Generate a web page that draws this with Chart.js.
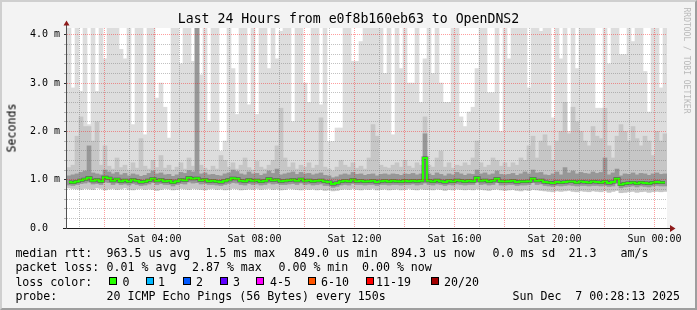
<!DOCTYPE html>
<html>
<head>
<meta charset="utf-8">
<script src="https://cdn.jsdelivr.net/npm/chart.js@4.4.1/dist/chart.umd.min.js"></script>
<style>
html,body{margin:0;padding:0;background:#f3f3f3;}
#wrap{position:relative;width:697px;height:310px;overflow:hidden;background:#f3f3f3;font-family:"DejaVu Sans Mono",monospace;color:#000;}
#c{position:absolute;left:0;top:0;}
.t{position:absolute;white-space:pre;font-size:11.6px;line-height:12px;}
.box{position:absolute;width:8px;height:8px;box-sizing:border-box;border:1px solid #000;}
#title{position:absolute;left:0;top:12px;width:697px;text-align:center;white-space:pre;font-size:13.2px;line-height:14px;}
#ylab{position:absolute;left:-13.5px;top:121.5px;width:49px;text-align:center;font-size:11.6px;line-height:12px;transform:rotate(-90deg);transform-origin:50% 50%;}
#wm{position:absolute;left:631px;top:55.5px;width:111px;text-align:center;white-space:pre;font-size:8px;line-height:9px;color:#b9b9b9;transform:rotate(90deg);transform-origin:50% 50%;}
#frame{position:absolute;left:0;top:0;width:697px;height:310px;box-sizing:border-box;border-style:solid;border-width:2px;border-color:#cfcfcf #9e9e9e #9e9e9e #cfcfcf;pointer-events:none;}
</style>
</head>
<body>
<div id="wrap">
<canvas id="c" width="697" height="310"></canvas>
<div id="title">Last 24 Hours from e0f8b160eb63 to OpenDNS2</div>
<div id="ylab">Seconds</div>
<div id="wm">RRDTOOL / TOBI OETIKER</div>

<div class="t" style="left:15.4px;top:247px">median rtt:</div>
<div class="t" style="left:106.6px;top:247px">963.5 us avg</div>
<div class="t" style="left:205.5px;top:247px">1.5 ms max</div>
<div class="t" style="left:294px;top:247px">849.0 us min</div>
<div class="t" style="left:391px;top:247px">894.3 us now</div>
<div class="t" style="left:492.5px;top:247px">0.0 ms sd</div>
<div class="t" style="left:568.5px;top:247px">21.3</div>
<div class="t" style="left:620.5px;top:247px">am/s</div>

<div class="t" style="left:15.4px;top:261.3px">packet loss:</div>
<div class="t" style="left:106.6px;top:261.3px">0.01 % avg</div>
<div class="t" style="left:192px;top:261.3px">2.87 % max</div>
<div class="t" style="left:278.5px;top:261.3px">0.00 % min</div>
<div class="t" style="left:362px;top:261.3px">0.00 % now</div>

<div class="t" style="left:15.4px;top:275.6px">loss color:</div>
<div class="box" style="left:108.5px;top:277px;background:#26ff00"></div>
<div class="t" style="left:122.5px;top:275.6px">0</div>
<div class="box" style="left:146px;top:277px;background:#00b8ff"></div>
<div class="t" style="left:158px;top:275.6px">1</div>
<div class="box" style="left:182.5px;top:277px;background:#0059ff"></div>
<div class="t" style="left:196px;top:275.6px">2</div>
<div class="box" style="left:219.5px;top:277px;background:#5e00ff"></div>
<div class="t" style="left:233px;top:275.6px">3</div>
<div class="box" style="left:256px;top:277px;background:#ff00ff"></div>
<div class="t" style="left:270px;top:275.6px">4-5</div>
<div class="box" style="left:307.5px;top:277px;background:#ff5500"></div>
<div class="t" style="left:321px;top:275.6px">6-10</div>
<div class="box" style="left:365.5px;top:277px;background:#ff0000"></div>
<div class="t" style="left:376px;top:275.6px">11-19</div>
<div class="box" style="left:430.5px;top:277px;background:#a10000"></div>
<div class="t" style="left:444px;top:275.6px">20/20</div>

<div class="t" style="left:15.4px;top:290px">probe:</div>
<div class="t" style="left:106.6px;top:290px">20 ICMP Echo Pings (56 Bytes) every 150s</div>
<div class="t" style="left:512.5px;top:290px">Sun Dec  7 00:28:13 2025</div>

<div id="frame"></div>
</div>

<script>
// ---- time columns: 150 columns of 9.6 min from Sat 00:30 to Sun 00:30 ----
const startHour = 0.5;
const colHours = 0.16;

// maximum ping per column (ms); 4.2 = beyond top of graph
const maxMs = [
4.2,2.9,4.2,2.83,4.2,2.14,4.2,2.83,4.2,3.5,
4.2,4.2,4.2,3.7,3.5,4.2,2.14,4.2,4.2,1.93,
4.2,4.2,2.69,3.0,2.5,1.86,4.2,4.2,3.4,4.2,
4.2,3.45,4.2,3.17,4.2,2.21,4.2,4.2,1.59,1.8,
4.2,3.3,2.35,4.2,4.2,2.55,4.2,2.35,4.2,4.2,
3.3,4.2,3.5,4.07,4.2,4.2,2.2,4.2,4.2,3.0,
2.6,4.2,4.2,2.55,4.2,1.79,1.79,2.07,2.07,4.2,
4.2,3.45,3.45,3.86,4.2,4.2,4.2,4.2,4.2,3.2,
4.2,1.93,4.2,3.3,4.2,3.0,3.0,4.2,2.6,3.5,
4.2,3.2,4.2,3.0,2.6,2.6,4.2,4.2,2.3,2.1,
2.4,2.5,3.3,4.2,4.2,2.8,2.8,4.2,2.0,4.2,
3.5,4.2,4.2,4.2,4.2,2.9,4.2,4.2,4.07,4.2,
4.2,2.28,4.2,3.5,4.2,2.0,4.2,3.3,4.2,4.2,
4.2,4.2,2.48,2.48,4.2,3.4,4.2,4.2,3.59,3.59,
4.2,3.86,4.2,4.2,3.24,2.4,4.2,4.2,2.9,4.2
];

// upper edge of the medium smoke (ms)
const upperMs = [
1.25,1.30,1.90,2.30,2.10,2.10,1.80,2.20,1.30,1.70,
1.28,1.22,1.45,1.25,1.30,1.20,1.35,1.24,1.85,1.28,
1.22,1.40,1.25,1.50,1.24,1.30,1.20,1.26,1.35,1.22,
1.45,1.28,4.20,1.30,1.24,1.20,1.28,1.22,1.50,1.40,
1.26,1.35,1.22,1.30,1.45,1.25,1.20,1.38,1.26,1.22,
1.30,1.40,1.70,2.48,1.45,1.26,1.35,1.22,1.30,1.26,
1.35,1.24,1.30,2.28,1.26,1.22,1.18,1.26,1.40,1.30,
1.26,1.35,1.24,1.28,1.22,1.45,2.14,1.90,1.30,1.26,
1.24,1.30,1.35,1.26,1.40,1.28,1.24,1.35,1.30,2.30,
1.30,1.26,1.45,1.59,1.26,1.35,1.24,1.30,1.28,1.35,
1.30,1.45,1.80,1.35,1.26,1.30,1.45,1.40,1.28,1.35,
1.26,1.35,1.30,1.45,1.40,1.70,1.90,1.45,1.80,1.93,
1.70,1.40,1.80,2.00,2.60,1.95,2.50,2.20,2.00,1.80,
1.70,2.10,1.90,1.85,2.48,1.70,1.45,1.90,2.14,2.00,
1.80,2.10,1.85,1.70,1.90,1.80,1.50,2.00,1.80,1.95
];

// dark smoke band around the median (ms)
const coreHi = [
1.08,1.10,1.12,1.15,1.18,1.70,1.14,1.12,1.10,1.20,
1.16,1.12,1.15,1.10,1.13,1.08,1.12,1.10,1.07,1.09,
1.13,1.18,1.12,1.14,1.10,1.11,1.07,1.10,1.15,1.13,
1.19,1.16,4.20,1.12,1.14,1.10,1.11,1.09,1.08,1.12,
1.14,1.20,1.17,1.12,1.10,1.16,1.12,1.13,1.09,1.12,
1.18,1.13,1.22,1.10,1.12,1.14,1.16,1.11,1.15,1.12,
1.13,1.10,1.12,1.14,1.09,1.08,1.04,1.06,1.10,1.12,
1.10,1.15,1.11,1.12,1.09,1.11,1.12,1.08,1.11,1.12,
1.10,1.12,1.11,1.09,1.12,1.11,1.13,1.10,1.12,1.95,
1.12,1.09,1.14,1.11,1.08,1.12,1.10,1.15,1.12,1.09,
1.12,1.11,1.20,1.12,1.14,1.10,1.12,1.18,1.11,1.10,
1.11,1.13,1.09,1.12,1.16,1.12,1.20,1.14,1.15,1.10,
1.09,1.12,1.16,1.10,1.25,1.14,1.18,1.12,1.15,1.13,
1.12,1.16,1.13,1.15,1.45,1.10,1.14,1.22,1.08,1.12,
1.11,1.14,1.10,1.13,1.12,1.09,1.12,1.14,1.11,1.12
];
const coreLo = [
0.89,0.88,0.90,0.92,0.93,0.95,0.91,0.92,0.90,0.95,
0.94,0.90,0.93,0.90,0.91,0.89,0.92,0.90,0.88,0.89,
0.91,0.94,0.90,0.92,0.90,0.90,0.87,0.90,0.92,0.91,
0.95,0.93,0.94,0.91,0.92,0.90,0.90,0.89,0.88,0.90,
0.92,0.94,0.93,0.90,0.89,0.92,0.90,0.91,0.89,0.90,
0.93,0.91,0.92,0.90,0.90,0.91,0.92,0.90,0.93,0.90,
0.91,0.89,0.90,0.91,0.88,0.88,0.84,0.86,0.89,0.90,
0.89,0.92,0.90,0.90,0.89,0.90,0.90,0.88,0.90,0.90,
0.89,0.90,0.90,0.89,0.90,0.90,0.91,0.89,0.90,0.93,
0.90,0.89,0.91,0.90,0.88,0.90,0.89,0.91,0.90,0.89,
0.90,0.90,0.95,0.90,0.91,0.89,0.90,0.94,0.89,0.89,
0.90,0.90,0.88,0.89,0.89,0.90,0.94,0.90,0.91,0.88,
0.87,0.86,0.88,0.87,0.88,0.89,0.88,0.87,0.88,0.88,
0.87,0.88,0.88,0.87,0.88,0.86,0.87,0.93,0.83,0.85,
0.86,0.87,0.85,0.87,0.86,0.85,0.87,0.88,0.87,0.87
];

// lowest ping per column (ms)
const floorMs = [
0.83,0.82,0.81,0.80,0.82,0.81,0.80,0.83,0.82,0.79,
0.81,0.82,0.80,0.81,0.83,0.80,0.79,0.81,0.82,0.80,
0.81,0.80,0.78,0.80,0.82,0.81,0.79,0.80,0.82,0.81,
0.80,0.82,0.81,0.80,0.79,0.81,0.82,0.80,0.81,0.79,
0.80,0.82,0.81,0.79,0.80,0.81,0.80,0.82,0.80,0.81,
0.82,0.80,0.81,0.79,0.80,0.82,0.81,0.80,0.79,0.81,
0.80,0.81,0.79,0.80,0.78,0.79,0.77,0.78,0.80,0.81,
0.80,0.82,0.80,0.79,0.81,0.80,0.82,0.79,0.80,0.81,
0.79,0.80,0.81,0.79,0.80,0.82,0.80,0.79,0.81,0.80,
0.80,0.79,0.81,0.80,0.78,0.80,0.79,0.81,0.80,0.79,
0.80,0.79,0.81,0.80,0.79,0.78,0.80,0.81,0.79,0.78,
0.79,0.80,0.78,0.77,0.79,0.78,0.80,0.79,0.78,0.77,
0.76,0.75,0.77,0.76,0.77,0.78,0.76,0.75,0.77,0.76,
0.75,0.77,0.76,0.75,0.77,0.74,0.76,0.78,0.73,0.74,
0.75,0.76,0.74,0.75,0.76,0.74,0.75,0.76,0.75,0.76
];

// median rtt per column (ms)
const medianMs = [
0.95,0.94,0.96,0.99,1.01,1.04,0.98,1.00,0.97,1.05,
1.03,0.98,1.01,0.97,0.99,0.96,1.00,0.98,0.95,0.96,
0.99,1.02,0.98,1.00,0.97,0.98,0.94,0.97,1.00,0.99,
1.04,1.02,1.03,0.99,1.00,0.97,0.98,0.96,0.95,0.98,
1.00,1.03,1.02,0.98,0.97,1.00,0.98,0.99,0.96,0.98,
1.02,0.99,1.00,0.97,0.98,0.99,1.00,0.98,1.01,0.98,
0.99,0.97,0.98,0.99,0.96,0.95,0.91,0.93,0.96,0.98,
0.97,1.00,0.97,0.98,0.96,0.97,0.98,0.95,0.97,0.98,
0.96,0.98,0.97,0.96,0.98,0.97,0.98,0.97,0.98,1.45,
0.98,0.96,0.99,0.97,0.95,0.98,0.96,0.99,0.98,0.96,
0.98,0.97,1.04,0.98,0.99,0.96,0.98,1.02,0.97,0.96,
0.97,0.98,0.95,0.96,0.96,0.97,1.02,0.98,0.99,0.95,
0.94,0.93,0.95,0.94,0.95,0.96,0.96,0.94,0.96,0.95,
0.94,0.96,0.95,0.94,0.96,0.93,0.95,1.02,0.90,0.92,
0.93,0.94,0.92,0.94,0.93,0.92,0.94,0.95,0.94,0.94
];

// axis ticks
const xGridHours = [1,2,3,4,5,6,7,8,9,10,11,12,13,14,15,16,17,18,19,20,21,22,23,24];
const xLabelHours = [4, 8, 12, 16, 20, 24];
const xLabelText = ["Sat 04:00", "Sat 08:00", "Sat 12:00", "Sat 16:00", "Sat 20:00", "Sun 00:00"];
const yGridValues = [0,0.2,0.4,0.6,0.8,1.0,1.2,1.4,1.6,1.8,2.0,2.2,2.4,2.6,2.8,3.0,3.2,3.4,3.6,3.8,4.0];
const yLabelValues = [0, 1, 2, 3, 4];
const yLabelText = ["0.0  ", "1.0 m", "2.0 m", "3.0 m", "4.0 m"];

const colTimes = medianMs.map((_, i) => startHour + colHours * (i + 0.5));
const band = (lo, hi) => colTimes.map((x, i) => ({x: x, y: [lo[i], hi[i]]}));
const line = (v) => colTimes.map((x, i) => ({x: x, y: v[i]}));

const isMajorY = v => v > 0.001 && Math.abs(v - Math.round(v)) < 1e-6;
const MAJOR = 'rgba(255,0,0,0.38)';
const MINOR = 'rgba(120,120,120,0.45)';

const framePlugin = {
  id: 'framePlugin',
  beforeDraw(chart) {
    const {ctx, chartArea: a} = chart;
    ctx.save();
    ctx.fillStyle = '#ffffff';
    ctx.fillRect(a.left, a.top, a.right - a.left, a.bottom - a.top);
    ctx.restore();
  },
  afterDraw(chart) {
    const {ctx, chartArea: a} = chart;
    ctx.save();
    ctx.lineWidth = 1;
    ctx.strokeStyle = '#1a1a1a';
    ctx.beginPath();
    ctx.moveTo(a.left - 4, a.bottom + 0.5);
    ctx.lineTo(a.right + 4, a.bottom + 0.5);
    ctx.stroke();
    ctx.strokeStyle = '#505050';
    ctx.beginPath();
    ctx.moveTo(a.left - 0.5, a.bottom + 1);
    ctx.lineTo(a.left - 0.5, a.top - 3);
    ctx.stroke();
    ctx.fillStyle = '#8e1b1b';
    ctx.beginPath();
    ctx.moveTo(a.left - 3.5, a.top - 2.5);
    ctx.lineTo(a.left + 2.5, a.top - 2.5);
    ctx.lineTo(a.left - 0.5, a.top - 7.5);
    ctx.closePath();
    ctx.fill();
    ctx.beginPath();
    ctx.moveTo(a.right + 3, a.bottom - 3);
    ctx.lineTo(a.right + 3, a.bottom + 4);
    ctx.lineTo(a.right + 8.5, a.bottom + 0.5);
    ctx.closePath();
    ctx.fill();
    ctx.restore();
  }
};

const barCommon = {type: 'bar', borderWidth: 0, barPercentage: 1, categoryPercentage: 1, grouped: false, clip: 0};

new Chart(document.getElementById('c'), {
  type: 'bar',
  data: {
    datasets: [
      {type: 'line', label: 'median', data: line(medianMs), borderColor: '#26ff00', borderWidth: 2,
       stepped: 'middle', pointRadius: 0, fill: false, order: 1, clip: 0},
      {type: 'line', label: 'median edge', data: line(medianMs), borderColor: 'rgba(0,0,0,0.45)', borderWidth: 3,
       stepped: 'middle', pointRadius: 0, fill: false, order: 2, clip: 0},
      Object.assign({label: 'core smoke', data: band(coreLo, coreHi), backgroundColor: '#979797', order: 3}, barCommon),
      Object.assign({label: 'smoke', data: band(floorMs, upperMs), backgroundColor: '#c6c6c6', order: 4}, barCommon),
      Object.assign({label: 'max', data: band(floorMs, maxMs), backgroundColor: '#dddddd', order: 5}, barCommon)
    ]
  },
  options: {
    responsive: false,
    animation: false,
    devicePixelRatio: 1,
    events: [],
    layout: {padding: {top: 28, right: 30, bottom: 0, left: 0}},
    plugins: {legend: {display: false}, tooltip: {enabled: false}, title: {display: false}},
    scales: {
      x: {
        type: 'linear', min: 0.5, max: 24.5, offset: false,
        afterFit: s => { s.height = 82; },
        afterBuildTicks: s => { s.ticks = xGridHours.map(v => ({value: v})); },
        border: {display: false, dash: [1, 1]},
        grid: {
          z: 1, offset: false, drawTicks: false, lineWidth: 1,
          color: c => (c.tick && c.tick.value % 2 === 0) ? MAJOR : MINOR
        },
        ticks: {
          autoSkip: false, maxRotation: 0, minRotation: 0, padding: 5, color: '#000',
          font: {family: 'DejaVu Sans Mono', size: 10},
          callback: v => { const k = xLabelHours.indexOf(v); return k >= 0 ? xLabelText[k] : ''; }
        }
      },
      y: {
        type: 'linear', min: 0, max: 4.14, offset: false,
        afterFit: s => { s.width = 67; },
        afterBuildTicks: s => { s.ticks = yGridValues.map(v => ({value: v})); },
        border: {display: false, dash: [1, 1]},
        grid: {
          z: 1, offset: false, drawTicks: true, tickLength: 3, lineWidth: 1,
          color: c => { const v = c.tick ? c.tick.value : 0; if (v < 0.001) return 'rgba(0,0,0,0)'; return isMajorY(v) ? MAJOR : MINOR; },
          tickColor: c => { const v = c.tick ? c.tick.value : 0; return isMajorY(v) ? '#333333' : 'rgba(120,120,120,0.5)'; }
        },
        ticks: {
          autoSkip: false, padding: 4, color: '#000',
          font: {family: 'DejaVu Sans Mono', size: 10},
          callback: v => { const k = yLabelValues.findIndex(u => Math.abs(u - v) < 1e-6); return k >= 0 ? yLabelText[k] : ''; }
        }
      }
    }
  },
  plugins: [framePlugin]
});
</script>
</body>
</html>
